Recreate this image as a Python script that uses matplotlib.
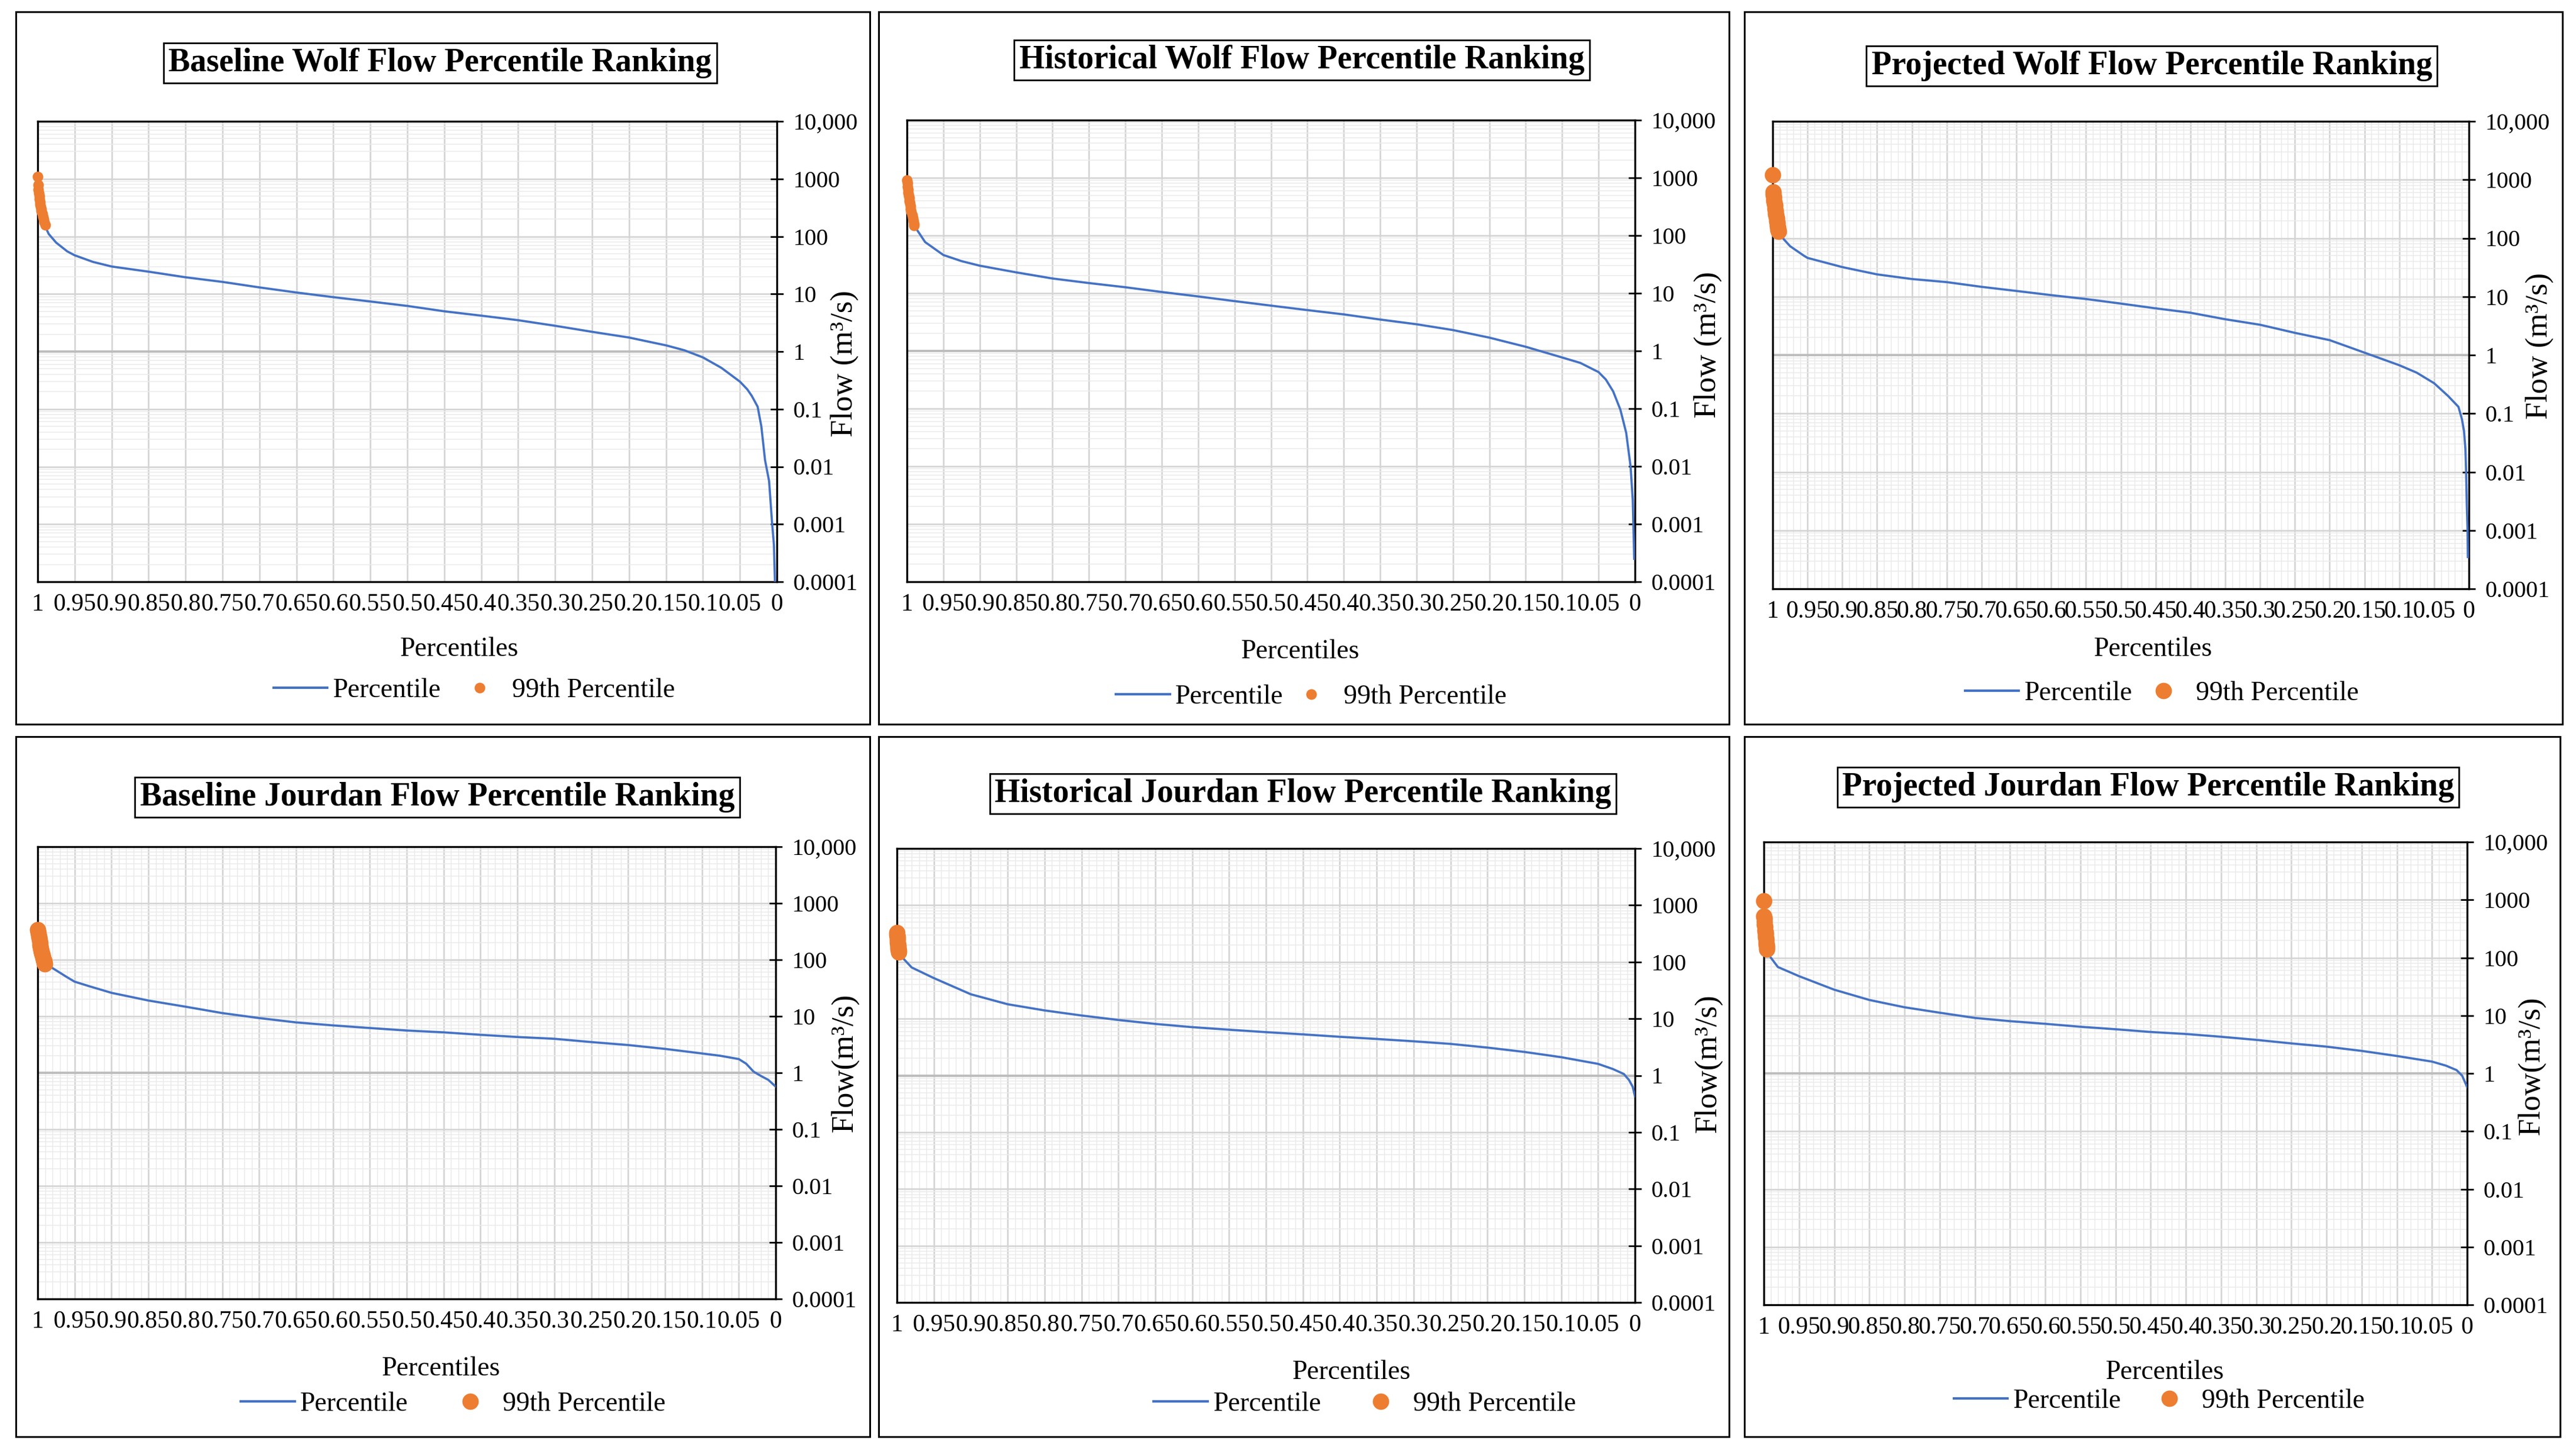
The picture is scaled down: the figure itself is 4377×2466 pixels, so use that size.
import matplotlib
matplotlib.use("Agg")
import matplotlib.pyplot as plt
from matplotlib.ticker import FixedLocator, LogLocator, MultipleLocator, NullFormatter
from matplotlib.lines import Line2D
from matplotlib.patches import Rectangle

plt.rcParams['font.family'] = ['Liberation Serif', 'DejaVu Serif']

W, H = 4377, 2466
BLUE = "#4472C4"
ORANGE = "#ED7D31"

# x axis ticks / labels (percentile, reversed axis)
x_ticks = [1.0, 0.95, 0.9, 0.85, 0.8, 0.75, 0.7, 0.65, 0.6, 0.55, 0.5,
           0.45, 0.4, 0.35, 0.3, 0.25, 0.2, 0.15, 0.1, 0.05, 0.0]
x_tick_labels = ["1", "0.95", "0.9", "0.85", "0.8", "0.75", "0.7", "0.65", "0.6", "0.55", "0.5",
                 "0.45", "0.4", "0.35", "0.3", "0.25", "0.2", "0.15", "0.1", "0.05", "0"]
y_ticks = [0.0001, 0.001, 0.01, 0.1, 1, 10, 100, 1000, 10000]
y_tick_labels = ["0.0001", "0.001", "0.01", "0.1", "1", "10", "100", "1000", "10,000"]

# Baseline Wolf
wolf_base_x = [0.99, 0.985, 0.975, 0.96, 0.95, 0.925, 0.9, 0.85, 0.8, 0.75, 0.7, 0.65, 0.6, 0.55, 0.5,
               0.45, 0.4, 0.35, 0.3, 0.25, 0.2, 0.15, 0.125, 0.1, 0.075, 0.05, 0.04, 0.034, 0.026,
               0.021, 0.016, 0.0105, 0.0066, 0.004, 0.0026]
wolf_base_q = [150, 110, 78, 55, 47, 36, 30, 24.4, 19.5, 16.2, 13, 10.6, 8.8, 7.4, 6.2,
               5.0, 4.2, 3.5, 2.8, 2.2, 1.75, 1.28, 1.05, 0.79, 0.52, 0.3, 0.22, 0.17, 0.11,
               0.05, 0.013, 0.0056, 0.0011, 0.00044, 0.0001]
wolf_base_p99_x = [1.0, 0.9995, 0.999, 0.9985, 0.998, 0.9975, 0.997, 0.9965, 0.996, 0.9955,
                   0.995, 0.994, 0.993, 0.992, 0.991, 0.990]
wolf_base_p99_q = [1100, 780, 650, 560, 500, 450, 400, 360, 330, 300, 280, 250, 220, 200, 180, 160]

# Historical Wolf
wolf_hist_x = [0.99, 0.975, 0.95, 0.925, 0.9, 0.85, 0.8, 0.75, 0.7, 0.65, 0.6, 0.55, 0.5, 0.45,
               0.4, 0.35, 0.3, 0.25, 0.2, 0.15, 0.1, 0.075, 0.05, 0.04, 0.03, 0.02, 0.012, 0.006,
               0.003, 0.001]
wolf_hist_q = [148, 77, 46, 36, 30, 23, 18, 15, 12.7, 10.5, 8.8, 7.3, 6.1, 5.1,
               4.3, 3.5, 2.9, 2.3, 1.7, 1.18, 0.77, 0.62, 0.43, 0.32, 0.2, 0.096, 0.038, 0.01,
               0.0026, 0.00025]
wolf_hist_p99_x = [1.0, 0.9995, 0.999, 0.9985, 0.998, 0.9975, 0.997, 0.9965, 0.996, 0.9955,
                   0.995, 0.994, 0.993, 0.992, 0.991, 0.9905, 0.990]
wolf_hist_p99_q = [900, 800, 700, 620, 560, 500, 450, 400, 360, 320, 290, 260, 230, 200, 180, 160, 150]

# Projected Wolf
wolf_proj_x = [0.99, 0.975, 0.955, 0.95, 0.9, 0.85, 0.8, 0.75, 0.7, 0.65, 0.6, 0.55, 0.5, 0.45,
               0.4, 0.35, 0.3, 0.25, 0.2, 0.15, 0.1, 0.075, 0.05, 0.03, 0.015, 0.01, 0.007, 0.005,
               0.004, 0.003, 0.002, 0.0015]
wolf_proj_q = [115, 73, 50, 46, 32, 24, 20, 17.7, 14.7, 12.5, 10.6, 9.1, 7.6, 6.3,
               5.3, 4.1, 3.3, 2.4, 1.8, 1.1, 0.67, 0.5, 0.33, 0.2, 0.13, 0.08, 0.05, 0.025,
               0.01, 0.0027, 0.0011, 0.00035]
wolf_proj_p99_x = [1.0, 0.9995, 0.999, 0.9985, 0.998, 0.9975, 0.997, 0.9965, 0.996, 0.9955,
                   0.995, 0.9945, 0.994, 0.9935, 0.993, 0.9925, 0.992, 0.9915]
wolf_proj_p99_q = [1200, 620, 560, 500, 450, 400, 360, 320, 290, 260, 240, 220, 200, 180, 165, 150, 140, 130]

# Baseline Jourdan
jour_base_x = [0.99, 0.975, 0.96, 0.95, 0.93, 0.9, 0.85, 0.8, 0.75, 0.7, 0.65, 0.6, 0.55, 0.5,
               0.45, 0.4, 0.35, 0.3, 0.25, 0.2, 0.15, 0.1, 0.075, 0.05, 0.04, 0.03, 0.02, 0.01, 0.0]
jour_base_q = [86, 65, 49, 41, 34, 26, 19, 14.8, 11.4, 9.3, 7.8, 6.9, 6.2, 5.6,
               5.2, 4.7, 4.3, 4.0, 3.5, 3.1, 2.65, 2.2, 2.0, 1.75, 1.45, 1.05, 0.88, 0.75, 0.57]
jour_base_p99_x = [1.0, 0.9993, 0.9986, 0.9979, 0.9972, 0.9965, 0.9958, 0.9951, 0.9944, 0.9937,
                   0.993, 0.9923, 0.9916, 0.9909, 0.9902]
jour_base_p99_q = [340, 300, 260, 230, 200, 180, 160, 145, 130, 120, 110, 100, 95, 90, 85]

# Historical Jourdan
jour_hist_x = [0.99, 0.98, 0.95, 0.9, 0.85, 0.8, 0.75, 0.7, 0.65, 0.6, 0.55, 0.5, 0.45, 0.4,
               0.35, 0.3, 0.25, 0.2, 0.15, 0.1, 0.05, 0.03, 0.015, 0.008, 0.003, 0.0]
jour_hist_q = [110, 80, 52, 27, 18, 14, 11.4, 9.5, 8.1, 7.1, 6.4, 5.8, 5.3, 4.8,
               4.4, 4.0, 3.6, 3.1, 2.6, 2.1, 1.6, 1.3, 1.06, 0.83, 0.63, 0.43]
jour_hist_p99_x = [1.0, 0.9998, 0.9996, 0.9994, 0.9992, 0.999, 0.9988, 0.9986, 0.9984, 0.9982,
                   0.998, 0.9978]
jour_hist_p99_q = [330, 300, 280, 260, 240, 220, 200, 190, 180, 170, 160, 150]

# Projected Jourdan
jour_proj_x = [0.99, 0.98, 0.95, 0.9, 0.85, 0.8, 0.75, 0.7, 0.65, 0.6, 0.55, 0.5, 0.45, 0.4,
               0.35, 0.3, 0.25, 0.2, 0.15, 0.1, 0.05, 0.03, 0.015, 0.007, 0.0]
jour_proj_q = [100, 69, 48, 28, 18.6, 13.9, 11.2, 9.1, 8.0, 7.2, 6.4, 5.8, 5.2, 4.8,
               4.3, 3.8, 3.3, 2.9, 2.45, 2.0, 1.6, 1.36, 1.14, 0.91, 0.58]
jour_proj_p99_x = [1.0, 0.9997, 0.9994, 0.9991, 0.9988, 0.9985, 0.9982, 0.9979, 0.9976, 0.9973,
                   0.997, 0.9967, 0.9964, 0.9961, 0.9958, 0.9955]
jour_proj_p99_q = [950, 520, 470, 420, 380, 340, 300, 270, 250, 230, 210, 190, 175, 160, 150, 140]

titles = ["Baseline Wolf Flow Percentile Ranking", "Historical Wolf Flow Percentile Ranking",
          "Projected Wolf Flow Percentile Ranking", "Baseline Jourdan Flow Percentile Ranking",
          "Historical Jourdan Flow Percentile Ranking", "Projected Jourdan Flow Percentile Ranking"]
ylabels = ["Flow (m³/s)", "Flow (m³/s)", "Flow (m³/s)", "Flow(m³/s)", "Flow(m³/s)", "Flow(m³/s)"]

# layout in pixels: plot box (l, r, t, b), frame (l, r, t, b), title, xlabel, legend, ylabel centres
layouts = [
  dict(ax=(64, 1320, 206, 988), frame=(27, 1478, 20, 1230), title=(748, 107), xlab=(780, 1103),
       leg=(806, 1173), ylab=(1435, 617), colsp=0.45, big=False, minor_x=False),
  dict(ax=(1541, 2778, 204, 988), frame=(1493, 2938, 20, 1230), title=(2212, 102), xlab=(2209, 1107),
       leg=(2228, 1184), ylab=(2902, 585), colsp=0.05, big=False, minor_x=False),
  dict(ax=(3012, 4195, 206, 1000), frame=(2964, 4354, 20, 1230), title=(3656, 112), xlab=(3658, 1103),
       leg=(3673, 1178), ylab=(4315, 587), colsp=0.15, big=True, minor_x=True),
  dict(ax=(64, 1318, 1438, 2206), frame=(27, 1478, 1251, 2440), title=(743, 1354), xlab=(749, 2325),
       leg=(770, 2385), ylab=(1435, 1805), colsp=1.3, big=True, minor_x=True),
  dict(ax=(1524, 2778, 1441, 2212), frame=(1493, 2938, 1251, 2440), title=(2214, 1348), xlab=(2296, 2331),
       leg=(2319, 2385), ylab=(2902, 1806), colsp=1.2, big=True, minor_x=True),
  dict(ax=(2997, 4192, 1430, 2216), frame=(2964, 4350, 1251, 2440), title=(3650, 1337), xlab=(3678, 2331),
       leg=(3669, 2380), ylab=(4301, 1810), colsp=0.8, big=True, minor_x=True),
]

series = [
  (wolf_base_x, wolf_base_q, wolf_base_p99_x, wolf_base_p99_q),
  (wolf_hist_x, wolf_hist_q, wolf_hist_p99_x, wolf_hist_p99_q),
  (wolf_proj_x, wolf_proj_q, wolf_proj_p99_x, wolf_proj_p99_q),
  (jour_base_x, jour_base_q, jour_base_p99_x, jour_base_p99_q),
  (jour_hist_x, jour_hist_q, jour_hist_p99_x, jour_hist_p99_q),
  (jour_proj_x, jour_proj_q, jour_proj_p99_x, jour_proj_p99_q),
]

def fx(px):
  return px / W

def fy(py):
  return 1.0 - py / H

def draw_panel(fig, lay, data, title, ylabel):
  l, r, t, b = lay["ax"]
  ax = fig.add_axes([fx(l), fy(b), (r - l) / W, (b - t) / H])
  x, q, px, pq = data
  ms = 20 if lay["big"] else 13

  ax.set_yscale("log")
  ax.set_ylim(0.0001, 10000)
  ax.set_xlim(1.0, 0.0)
  ax.set_axisbelow(True)

  ax.xaxis.set_major_locator(FixedLocator(x_ticks))
  ax.set_xticklabels(x_tick_labels)
  ax.yaxis.set_major_locator(FixedLocator(y_ticks))
  ax.set_yticklabels(y_tick_labels)
  ax.yaxis.set_minor_locator(LogLocator(base=10, subs=range(2, 10), numticks=100))
  ax.yaxis.set_minor_formatter(NullFormatter())
  if lay["minor_x"]:
    ax.xaxis.set_minor_locator(MultipleLocator(0.01))
    ax.grid(which="minor", axis="x", color="#e8e8e8", lw=1.0)

  ax.grid(which="major", axis="x", color="#d4d4d4", lw=1.9)
  ax.grid(which="major", axis="y", color="#d4d4d4", lw=1.9)
  ax.grid(which="minor", axis="y", color="#ebebeb", lw=1.1)
  ax.axhline(1, color="#bdbdbd", lw=2.8, zorder=1.5)

  ax.yaxis.tick_right()
  ax.tick_params(axis="y", which="major", direction="inout", length=16, width=2,
                 labelsize=29, pad=12, right=True, left=False)
  ax.tick_params(axis="y", which="minor", length=0)
  ax.tick_params(axis="x", which="both", length=0, labelsize=30, pad=14)
  for s in ax.spines.values():
    s.set_color("black")
    s.set_linewidth(2.4)

  ax.plot(x, q, color=BLUE, lw=2.7, zorder=3)
  ax.plot(px, pq, ls="", marker="o", markersize=ms, color=ORANGE, markeredgewidth=0,
          zorder=4, clip_on=False)

  fig.text(fx(lay["title"][0]), fy(lay["title"][1]), title, ha="center", va="center",
           fontsize=40, fontweight="bold",
           bbox=dict(boxstyle="square,pad=0.15", fc="white", ec="black", lw=2))
  fig.text(fx(lay["xlab"][0]), fy(lay["xlab"][1]), "Percentiles", ha="center", va="center", fontsize=33)
  fig.text(fx(lay["ylab"][0]), fy(lay["ylab"][1]), ylabel, ha="center", va="center",
           rotation=90, fontsize=38)

  handles = [Line2D([], [], color=BLUE, lw=3.0),
             Line2D([], [], ls="", marker="o", markersize=ms, color=ORANGE, markeredgewidth=0)]
  fig.legend(handles, ["Percentile", "99th Percentile"], loc="center",
             bbox_to_anchor=(fx(lay["leg"][0]), fy(lay["leg"][1])), ncol=2, frameon=False,
             fontsize=33, handlelength=2.0, handletextpad=0.2, columnspacing=lay["colsp"],
             borderpad=0.1)

  fl, fr, ft, fb = lay["frame"]
  fig.patches.append(Rectangle((fx(fl), fy(fb)), (fr - fl) / W, (fb - ft) / H, fill=False,
                               ec="black", lw=2.2, transform=fig.transFigure, figure=fig))
  return ax

if __name__ == "__main__":
  fig = plt.figure(figsize=(W / 100.0, H / 100.0), dpi=100)
  fig.patch.set_facecolor("white")
  for lay, data, title, ylabel in zip(layouts, series, titles, ylabels):
    draw_panel(fig, lay, data, title, ylabel)
  fig.savefig("out.png", dpi=100, facecolor="white")
